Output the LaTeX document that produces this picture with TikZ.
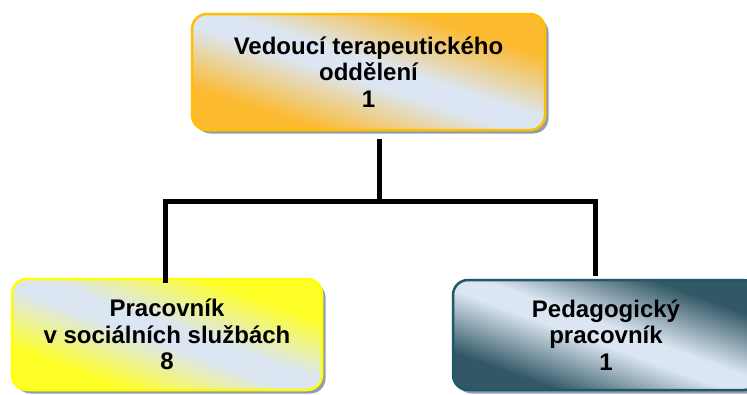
\documentclass[tikz,border=0pt]{standalone}
\usepackage{fontspec}
\setmainfont{Liberation Sans}
\usetikzlibrary{shadows}
\definecolor{lblue}{RGB}{220,230,242}
\definecolor{orangeC}{RGB}{252,186,48}
\definecolor{orangeB}{RGB}{255,192,0}
\definecolor{yellowC}{RGB}{255,255,40}
\definecolor{yellowB}{RGB}{255,255,0}
\definecolor{slateC}{RGB}{50,88,102}
\definecolor{slateB}{RGB}{33,88,104}
\definecolor{shadowC}{RGB}{145,158,178}
\pgfdeclareverticalshading{gorange}{100bp}{color(0bp)=(orangeC); color(30bp)=(orangeC);
  color(47bp)=(lblue); color(53bp)=(lblue); color(70bp)=(orangeC); color(100bp)=(orangeC)}
\pgfdeclareverticalshading{gyellow}{100bp}{color(0bp)=(yellowC); color(30bp)=(yellowC);
  color(47bp)=(lblue); color(53bp)=(lblue); color(70bp)=(yellowC); color(100bp)=(yellowC)}
\pgfdeclareverticalshading{gslate}{100bp}{color(0bp)=(slateC); color(29bp)=(slateC);
  color(47bp)=(lblue); color(53bp)=(lblue); color(71bp)=(slateC); color(100bp)=(slateC)}
\tikzset{
  orgbox/.style={rounded corners=15pt, line width=2.5pt, align=center,
    font=\bfseries\fontsize{24}{26.5}\selectfont, text=black, inner sep=0pt,
    drop shadow={shadow xshift=3.5pt, shadow yshift=-3.5pt, fill=shadowC, opacity=1}},
  conn/.style={line width=5pt, draw=black}
}
\begin{document}
\begin{tikzpicture}[x=1pt,y=-1pt]
\useasboundingbox (0,0) rectangle (747,394);
\node[orgbox, draw=orangeB, shade, shading=gorange, shading angle=-18,
  minimum width=353pt, minimum height=116pt] (top) at (368.5,72)
  {Vedoucí terapeutického\\oddělení\\1};
\node[orgbox, draw=yellowB, shade, shading=gyellow, shading angle=-20,
  minimum width=310pt, minimum height=111pt] (left) at (167,334.5)
  {Pracovník\\v sociálních službách\\8};
\node[orgbox, draw=slateB, shade, shading=gslate, shading angle=-20,
  minimum width=306pt, minimum height=110pt] (right) at (606,335)
  {Pedagogický\\pracovník\\1};
\coordinate (jm) at (379,201);
\coordinate (jl) at (165,201);
\coordinate (jr) at (595,201);
\draw[conn] ([xshift=10.5pt,yshift=-8pt]top.south) -- (jm);
\draw[conn] ([yshift=-5pt]left.north -| jl) -- (jl) -- (jr) -- ([yshift=3pt]right.north -| jr);
\end{tikzpicture}
\end{document}
